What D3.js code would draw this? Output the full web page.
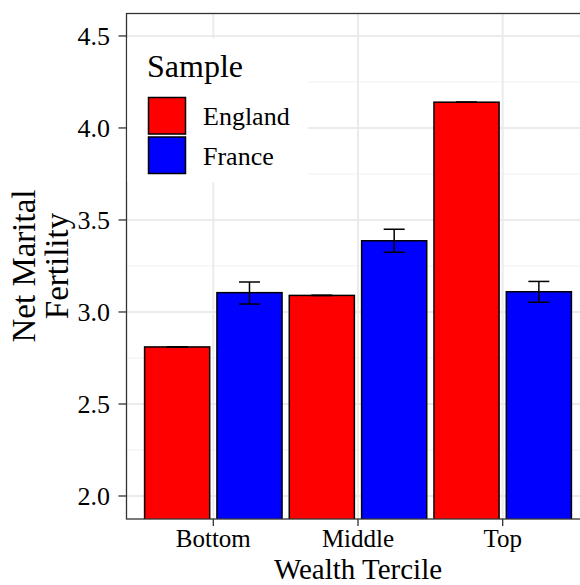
<!DOCTYPE html>
<html lang="en">
<head>
    <meta charset="UTF-8">
    <title>Net Marital Fertility by Wealth Tercile</title>
    <script src="https://cdnjs.cloudflare.com/ajax/libs/d3/7.8.5/d3.min.js"></script>
    <style>
        body {
            margin: 0;
            background: #fff;
        }
        svg text {
            font-family: "Liberation Serif", "Times New Roman", serif;
            fill: #000;
        }
    </style>
</head>
<body>
    <div id="chart"></div>
    <script>
        // Data
        const categories = ["Bottom", "Middle", "Top"];
        const samples = ["England", "France"];
        const englandValues = [2.81, 3.09, 4.14];
        const franceValues = [3.105, 3.387, 3.11];
        const franceLow = [3.043, 3.324, 3.053];
        const franceHigh = [3.163, 3.449, 3.166];
        const yTicks = [2.0, 2.5, 3.0, 3.5, 4.0, 4.5];
        const yMinorTicks = [2.25, 2.75, 3.25, 3.75, 4.25];
        const colors = {England: "#ff0000", France: "#0000ff"};

        const width = 580, height = 585;
        const panel = {left: 126.5, right: 589.5, top: 13.5, bottom: 519};
        const serif = "'Liberation Serif', 'Times New Roman', serif";

        const svg = d3.select("#chart")
            .append("svg")
            .attr("width", width)
            .attr("height", height)
            .attr("font-family", serif);

        // Scales
        const x = d3.scaleBand()
            .domain(categories)
            .range([panel.left, panel.right])
            .paddingInner(0)
            .paddingOuter(0.1);
        const step = x.step();
        const barWidth = 0.45 * step;
        const dodge = {England: -0.25 * step, France: 0.25 * step};

        const y = d3.scaleLinear()
            .domain([1.875, 4.622])
            .range([panel.bottom, panel.top]);

        // Rows for bars
        const rows = [];
        categories.forEach((c, i) => {
            rows.push({cat: c, sample: "England", value: englandValues[i], lo: englandValues[i], hi: englandValues[i]});
            rows.push({cat: c, sample: "France", value: franceValues[i], lo: franceLow[i], hi: franceHigh[i]});
        });

        svg.append("clipPath")
            .attr("id", "panel-clip")
            .append("rect")
            .attr("x", panel.left)
            .attr("y", panel.top)
            .attr("width", panel.right - panel.left)
            .attr("height", panel.bottom - panel.top);

        const plot = svg.append("g").attr("clip-path", "url(#panel-clip)");

        // Grid lines
        plot.selectAll(".minor")
            .data(yMinorTicks)
            .enter().append("line")
            .attr("x1", panel.left).attr("x2", panel.right)
            .attr("y1", d => y(d)).attr("y2", d => y(d))
            .attr("stroke", "#f0f0f0")
            .attr("stroke-width", 1);
        plot.selectAll(".major-y")
            .data(yTicks)
            .enter().append("line")
            .attr("x1", panel.left).attr("x2", panel.right)
            .attr("y1", d => y(d)).attr("y2", d => y(d))
            .attr("stroke", "#ebebeb")
            .attr("stroke-width", 2);
        plot.selectAll(".major-x")
            .data(categories)
            .enter().append("line")
            .attr("x1", d => x(d) + step / 2).attr("x2", d => x(d) + step / 2)
            .attr("y1", panel.top).attr("y2", panel.bottom)
            .attr("stroke", "#ebebeb")
            .attr("stroke-width", 2);

        // Bars
        plot.selectAll(".bar")
            .data(rows)
            .enter().append("rect")
            .attr("x", d => x(d.cat) + step / 2 + dodge[d.sample] - barWidth / 2)
            .attr("y", d => y(d.value))
            .attr("width", barWidth)
            .attr("height", d => y(y.domain()[0]) - y(d.value) + 5)
            .attr("fill", d => colors[d.sample])
            .attr("stroke", "#000")
            .attr("stroke-width", 1.5);

        // Error bars
        const errW = 10.5;
        const eb = plot.selectAll(".err")
            .data(rows)
            .enter().append("g");
        eb.append("line")
            .attr("x1", d => x(d.cat) + step / 2 + dodge[d.sample])
            .attr("x2", d => x(d.cat) + step / 2 + dodge[d.sample])
            .attr("y1", d => y(d.lo)).attr("y2", d => y(d.hi));
        eb.append("line")
            .attr("x1", d => x(d.cat) + step / 2 + dodge[d.sample] - errW)
            .attr("x2", d => x(d.cat) + step / 2 + dodge[d.sample] + errW)
            .attr("y1", d => y(d.hi)).attr("y2", d => y(d.hi));
        eb.append("line")
            .attr("x1", d => x(d.cat) + step / 2 + dodge[d.sample] - errW)
            .attr("x2", d => x(d.cat) + step / 2 + dodge[d.sample] + errW)
            .attr("y1", d => y(d.lo)).attr("y2", d => y(d.lo));
        eb.selectAll("line")
            .attr("stroke", "#000")
            .attr("stroke-width", 1.5);

        // Panel border
        svg.append("rect")
            .attr("x", panel.left)
            .attr("y", panel.top)
            .attr("width", panel.right - panel.left)
            .attr("height", panel.bottom - panel.top)
            .attr("fill", "none")
            .attr("stroke", "#333")
            .attr("stroke-width", 1.3);

        // Y axis ticks and labels
        const yAxis = svg.append("g");
        yAxis.selectAll("line")
            .data(yTicks)
            .enter().append("line")
            .attr("x1", panel.left - 8).attr("x2", panel.left)
            .attr("y1", d => y(d)).attr("y2", d => y(d))
            .attr("stroke", "#333")
            .attr("stroke-width", 1.3);
        yAxis.selectAll("text")
            .data(yTicks)
            .enter().append("text")
            .attr("x", 110)
            .attr("y", d => y(d))
            .attr("dy", "0.33em")
            .attr("text-anchor", "end")
            .attr("font-family", serif)
            .attr("font-size", 26)
            .text(d => d3.format(".1f")(d));

        // X axis ticks and labels
        const xAxis = svg.append("g");
        xAxis.selectAll("line")
            .data(categories)
            .enter().append("line")
            .attr("x1", d => x(d) + step / 2).attr("x2", d => x(d) + step / 2)
            .attr("y1", panel.bottom).attr("y2", panel.bottom + 7)
            .attr("stroke", "#333")
            .attr("stroke-width", 1.3);
        xAxis.selectAll("text")
            .data(categories)
            .enter().append("text")
            .attr("x", d => x(d) + step / 2)
            .attr("y", 547)
            .attr("text-anchor", "middle")
            .attr("font-family", serif)
            .attr("font-size", 25)
            .text(d => d);

        // Axis titles
        svg.append("text")
            .attr("x", (panel.left + panel.right) / 2)
            .attr("y", 578.5)
            .attr("text-anchor", "middle")
            .attr("font-family", serif)
            .attr("font-size", 29)
            .text("Wealth Tercile");

        const yTitle = svg.append("text")
            .attr("transform", "translate(0,266) rotate(-90)")
            .attr("text-anchor", "middle")
            .attr("font-family", serif)
            .attr("font-size", 33);
        yTitle.append("tspan").attr("x", 0).attr("y", 35).text("Net Marital");
        yTitle.append("tspan").attr("x", 0).attr("y", 68).text("Fertility");

        // Legend
        const legend = svg.append("g");
        legend.append("rect")
            .attr("x", panel.left + 1)
            .attr("y", 38)
            .attr("width", 308 - panel.left - 1)
            .attr("height", 144)
            .attr("fill", "#fff");
        legend.append("text")
            .attr("x", 147)
            .attr("y", 77)
            .attr("font-family", serif)
            .attr("font-size", 32)
            .text("Sample");
        samples.forEach((s, i) => {
            legend.append("rect")
                .attr("x", 148.5)
                .attr("y", 97.5 + i * 39.5)
                .attr("width", 37)
                .attr("height", 36.5)
                .attr("fill", colors[s])
                .attr("stroke", "#000")
                .attr("stroke-width", 1.5);
            legend.append("text")
                .attr("x", 203)
                .attr("y", 125 + i * 39.5)
                .attr("font-family", serif)
                .attr("font-size", 26)
                .text(s);
        });
    </script>
</body>
</html>
